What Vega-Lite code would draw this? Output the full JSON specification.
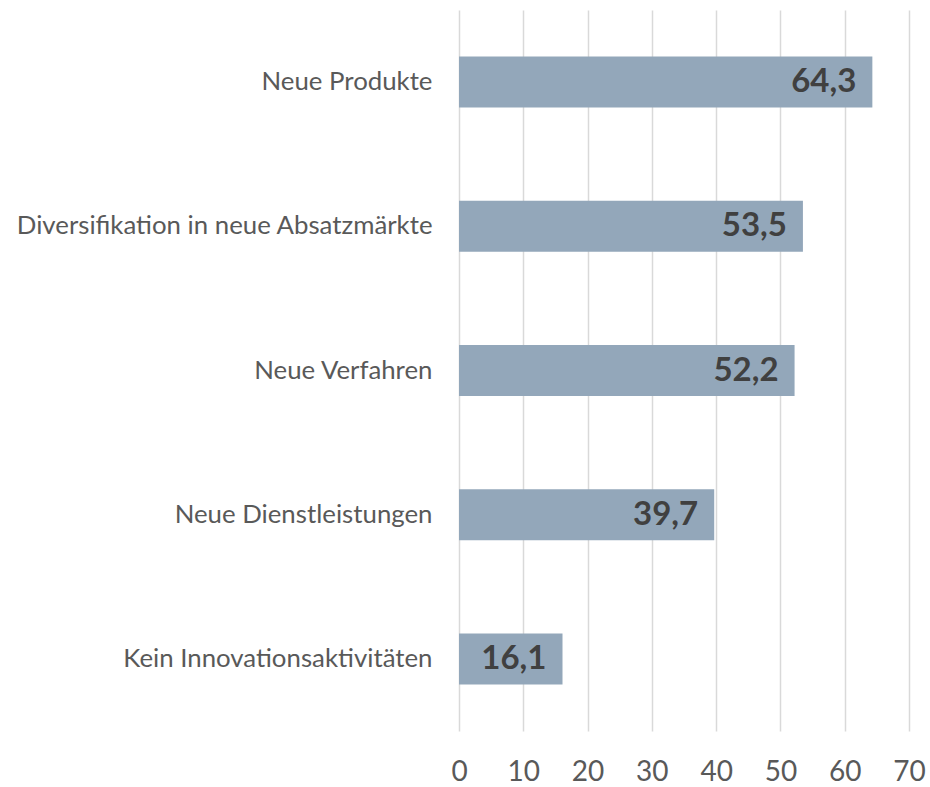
{
  "$schema": "https://vega.github.io/schema/vega-lite/v6.json",
  "autosize": "none",
  "width": 450,
  "height": 721,
  "padding": {"left": 459, "top": 10, "right": 21, "bottom": 56},
  "background": "white",
  "config": {"view": {"stroke": null}, "font": "Lato"},
  "data": {
    "values": [
      {"category": "Neue Produkte", "value": 64.3, "label": "64,3"},
      {"category": "Diversifikation in neue Absatzmärkte", "value": 53.5, "label": "53,5"},
      {"category": "Neue Verfahren\u00a0", "value": 52.2, "label": "52,2"},
      {"category": "Neue Dienstleistungen", "value": 39.7, "label": "39,7"},
      {"category": "Kein Innovationsaktivitäten", "value": 16.1, "label": "16,1"}
    ]
  },
  "encoding": {
    "y": {
      "field": "category", "type": "nominal", "sort": null,
      "scale": {"paddingInner": 0.646, "paddingOuter": 0.323},
      "axis": {"title": null, "domain": false, "ticks": false, "labelPadding": 27, "labelFontSize": 25.8, "labelColor": "#595959", "labelFont": "Lato", "labelLimit": 600}
    },
    "x": {
      "field": "value", "type": "quantitative",
      "scale": {"domain": [0, 70], "nice": false},
      "axis": {"title": null, "values": [0, 10, 20, 30, 40, 50, 60, 70], "domain": false, "ticks": false, "grid": true, "gridColor": "#d9d9d9", "gridWidth": 1.5, "labelPadding": 27, "labelFontSize": 28, "labelColor": "#595959", "labelFont": "Lato", "labelFlush": false, "labelOverlap": false, "labelBound": false}
    }
  },
  "layer": [
    {"mark": {"type": "bar", "color": "#93a7ba"}},
    {
      "mark": {"type": "text", "align": "right", "baseline": "middle", "dx": -16, "fontSize": 33, "fontWeight": "bold", "color": "#404040", "font": "Lato"},
      "encoding": {"text": {"field": "label"}}
    }
  ]
}
